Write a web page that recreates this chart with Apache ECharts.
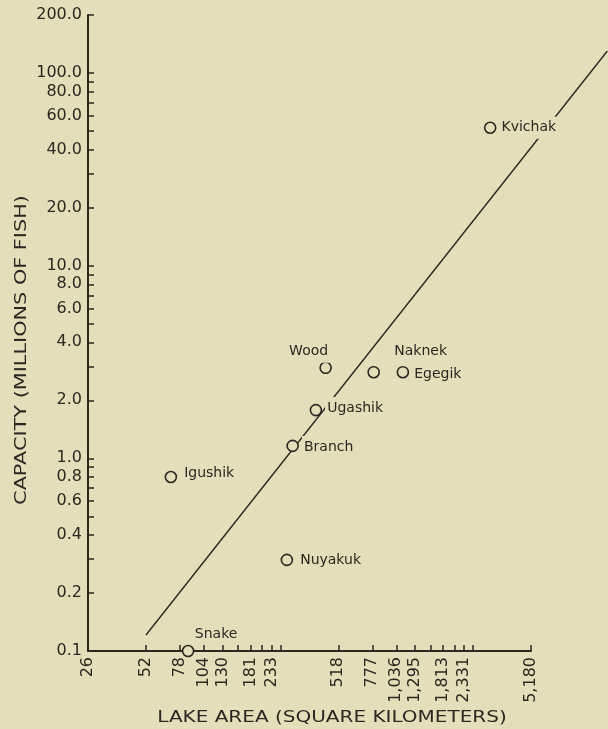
<!DOCTYPE html>
<html>
<head>
<meta charset="utf-8">
<script src="https://cdn.jsdelivr.net/npm/echarts@6/dist/echarts.min.js"></script>
<style>
html, body { margin: 0; padding: 0; background: #e4dfbb; }
#chart { width: 608px; height: 729px; }
</style>
</head>
<body>
<div id="chart"></div>
<script>
// ---- data ----
const lakes = ['Kvichak', 'Wood', 'Naknek', 'Egegik', 'Ugashik', 'Branch', 'Igushik', 'Nuyakuk', 'Snake'];
const lakeArea = [3180, 445, 790, 1120, 396, 300, 70, 280, 86];       // square kilometers
const capacity = [52, 2.95, 2.8, 2.8, 1.78, 1.16, 0.80, 0.297, 0.1];  // millions of fish

const fitLineArea = [52, 12900];
const fitLineCapacity = [0.121, 130];

const xTickValues = [26, 52, 78, 104, 130, 155, 181, 207, 233, 259, 518, 777, 1036, 1295, 1554, 1813, 2072, 2331, 2590, 5180];
const xLabelValues = [26, 52, 78, 104, 130, 181, 233, 518, 777, 1036, 1295, 1813, 2331, 5180];
const yTickValues = [0.1, 0.2, 0.3, 0.4, 0.5, 0.6, 0.7, 0.8, 0.9, 1, 2, 3, 4, 5, 6, 7, 8, 9, 10, 20, 30, 40, 50, 60, 70, 80, 90, 100, 200];
const yLabelValues = [0.1, 0.2, 0.4, 0.6, 0.8, 1, 2, 4, 6, 8, 10, 20, 40, 60, 80, 100, 200];

const xTitle = 'LAKE AREA (SQUARE KILOMETERS)';
const yTitle = 'CAPACITY (MILLIONS OF FISH)';

// ---- axis ranges ----
const xMin = 26, xMax = 5180;
const yMin = 0.1, yMax = 200;
// the fitted line runs past the right end of the drawn x axis; a second,
// invisible axis on the same log scale carries it
const xMaxExtended = 13000;

// ---- styling ----
const BG = '#e4dfbb';
const INK = '#2a2820';
const FONT = '"DejaVu Sans", sans-serif';
const GRID_LEFT = 88, GRID_TOP = 15, GRID_W = 443, GRID_H = 636;
const GRID_W_EXT = GRID_W * Math.log10(xMaxExtended / xMin) / Math.log10(xMax / xMin);

const labelPlacement = {
  Kvichak: { position: 'right', offset: [0, 0] },
  Wood:    { position: 'inside', offset: [-17, -16] },
  Naknek:  { position: 'inside', offset: [47, -21] },
  Egegik:  { position: 'right', offset: [0, 2] },
  Ugashik: { position: 'right', offset: [0, -2] },
  Branch:  { position: 'right', offset: [0, 1] },
  Igushik: { position: 'right', offset: [2, -4] },
  Nuyakuk: { position: 'right', offset: [2, 0] },
  Snake:   { position: 'inside', offset: [28, -17] }
};

const scatterData = lakes.map((name, i) => {
  const p = labelPlacement[name];
  return {
    name: name,
    value: [lakeArea[i], capacity[i]],
    label: { position: p.position, offset: p.offset }
  };
});
const lineData = fitLineArea.map((a, i) => [a, fitLineCapacity[i]]);

function fmtThousands(v) {
  const s = String(Math.round(v));
  return s.replace(/\B(?=(\d{3})+$)/g, ',');
}

const chart = echarts.init(document.getElementById('chart'), null, { renderer: 'canvas' });
chart.setOption({
  animation: false,
  backgroundColor: BG,
  grid: [
    { left: GRID_LEFT, top: GRID_TOP, width: GRID_W, height: GRID_H, containLabel: false, outerBoundsMode: 'none' },
    { left: GRID_LEFT, top: GRID_TOP, width: GRID_W_EXT, height: GRID_H, containLabel: false, outerBoundsMode: 'none' }
  ],
  xAxis: [
    {
      gridIndex: 0,
      type: 'log',
      logBase: 10,
      min: xMin,
      max: xMax,
      axisLine: { show: true, lineStyle: { color: INK, width: 2 } },
      axisTick: { show: true, inside: true, length: 6, customValues: xTickValues, lineStyle: { color: INK, width: 1.5 } },
      axisLabel: {
        customValues: xLabelValues,
        rotate: 90,
        margin: 6,
        color: INK,
        fontFamily: FONT,
        fontSize: 16,
        formatter: v => fmtThousands(v)
      },
      splitLine: { show: false },
      minorTick: { show: false }
    },
    {
      gridIndex: 1,
      type: 'log',
      logBase: 10,
      min: xMin,
      max: xMaxExtended,
      show: false
    }
  ],
  yAxis: [
    {
      gridIndex: 0,
      type: 'log',
      logBase: 10,
      min: yMin,
      max: yMax,
      axisLine: { show: true, lineStyle: { color: INK, width: 2 } },
      axisTick: { show: true, inside: true, length: 6, customValues: yTickValues, lineStyle: { color: INK, width: 1.5 } },
      axisLabel: {
        customValues: yLabelValues,
        margin: 6,
        color: INK,
        fontFamily: FONT,
        fontSize: 16,
        formatter: v => Number(v).toFixed(1)
      },
      splitLine: { show: false },
      minorTick: { show: false }
    },
    {
      gridIndex: 1,
      type: 'log',
      logBase: 10,
      min: yMin,
      max: yMax,
      show: false
    }
  ],
  series: [
    {
      type: 'line',
      xAxisIndex: 1,
      yAxisIndex: 1,
      data: lineData,
      showSymbol: false,
      symbol: 'none',
      silent: true,
      z: 1,
      lineStyle: { color: INK, width: 1.4 }
    },
    {
      type: 'scatter',
      xAxisIndex: 0,
      yAxisIndex: 0,
      data: scatterData,
      symbol: 'circle',
      symbolSize: 11,
      clip: false,
      z: 3,
      itemStyle: { color: BG, borderColor: INK, borderWidth: 1.6, opacity: 1 },
      label: {
        show: true,
        formatter: '{b}',
        color: INK,
        fontFamily: FONT,
        fontSize: 14,
        distance: 3,
        backgroundColor: BG,
        padding: [4, 2]
      }
    }
  ],
  graphic: [
    {
      type: 'text',
      x: 332,
      y: 718,
      scaleX: 1.25,
      style: { text: xTitle, fill: INK, font: '16px ' + FONT, align: 'center', verticalAlign: 'middle' }
    },
    {
      type: 'text',
      x: 22,
      y: 350,
      rotation: Math.PI / 2,
      scaleX: 1.3,
      style: { text: yTitle, fill: INK, font: '16px ' + FONT, align: 'center', verticalAlign: 'middle' }
    }
  ]
});
</script>
</body>
</html>
